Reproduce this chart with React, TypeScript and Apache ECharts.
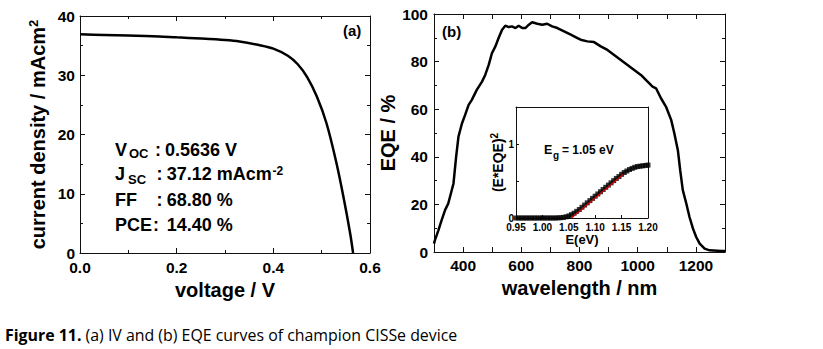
import React, { useEffect, useRef } from "react";
import * as echarts from "echarts";

// ---- IV curve (panel a)
const ivVoltage = [0, 0.05, 0.1, 0.15, 0.2, 0.25, 0.3, 0.33, 0.37, 0.4, 0.43, 0.45, 0.47, 0.49, 0.51, 0.53, 0.545, 0.559, 0.565];
const ivCurrent = [36.9, 36.8, 36.7, 36.6, 36.4, 36.2, 35.95, 35.7, 35.1, 34.5, 33.3, 31.9, 29.7, 26.4, 21.9, 15.4, 9.5, 3.3, 0];

// ---- EQE curve (panel b)
const eqeWavelength = [300, 303, 315, 326, 338, 349, 358, 367, 376, 384, 396, 407, 419, 430, 447, 465, 476, 488, 499, 511, 522, 534, 545, 557, 568, 580, 591, 603, 614, 626, 637, 655, 672, 689, 706, 724, 747, 770, 793, 804, 827, 850, 873, 896, 919, 942, 965, 988, 1011, 1034, 1051, 1063, 1080, 1097, 1115, 1126, 1138, 1146, 1155, 1167, 1178, 1190, 1201, 1213, 1230, 1247, 1287, 1300];
const eqeValue = [3.5, 4.9, 9.1, 13.3, 17.6, 20.4, 24.6, 28.8, 40.0, 48.4, 54.0, 57.6, 61.8, 63.9, 68.1, 71.6, 74.4, 78.6, 83.5, 86.4, 89.9, 93.4, 95.1, 94.5, 94.8, 94.1, 95.1, 94.1, 94.1, 95.5, 96.5, 95.9, 95.5, 95.9, 94.8, 94.1, 92.7, 91.3, 89.9, 89.2, 88.5, 88.2, 86.4, 84.9, 82.8, 80.7, 78.6, 76.5, 74.4, 71.6, 69.5, 68.8, 64.6, 61.1, 55.5, 49.8, 42.8, 34.4, 26.0, 20.4, 14.7, 9.8, 6.3, 3.5, 1.4, 0.7, 0.4, 0.4];

// ---- Inset: (E*EQE)^2 vs E
const insetEnergy = [0.95, 0.955, 0.96, 0.965, 0.97, 0.975, 0.98, 0.985, 0.99, 0.995, 1.0, 1.005, 1.01, 1.015, 1.02, 1.025, 1.03, 1.035, 1.04, 1.045, 1.05, 1.055, 1.06, 1.065, 1.07, 1.075, 1.08, 1.085, 1.09, 1.095, 1.1, 1.105, 1.11, 1.115, 1.12, 1.125, 1.13, 1.135, 1.14, 1.145, 1.15, 1.155, 1.16, 1.165, 1.17, 1.175, 1.18, 1.185, 1.19, 1.195, 1.2];
const insetValue = [0, 0, 0, 0, 0, 0, 0, 0, 0, 0, 0, 0, 0, 0, 0, 0, 0.002, 0.004, 0.008, 0.016, 0.028, 0.045, 0.065, 0.09, 0.115, 0.145, 0.175, 0.205, 0.235, 0.265, 0.295, 0.325, 0.355, 0.385, 0.415, 0.445, 0.475, 0.505, 0.535, 0.56, 0.59, 0.615, 0.635, 0.655, 0.67, 0.685, 0.695, 0.7, 0.705, 0.71, 0.715];
const fitEnergy = [1.055, 1.153];
const fitValue = [0, 0.59];

const FONT = "Liberation Sans";
const AX = "#111";

const zip = (a: number[], b: number[]) => a.map((v, i) => [v, b[i]]);

const labelStyle = (size: number, extra: any = {}) => ({
  fontFamily: FONT,
  fontWeight: "bold",
  fontSize: size,
  color: "#000",
  ...extra,
});

function axis(opts: any) {
  const { gridIndex, min, max, interval, position, labels, labelSize, labelLH, formatter, minor, tickLen, margin, name, nameGap, nameSize, rich } = opts;
  return {
    type: "value",
    gridIndex,
    min,
    max,
    interval,
    position,
    splitLine: { show: false },
    axisLine: { show: true, onZero: false, lineStyle: { color: AX, width: 1 } },
    axisTick: { show: true, inside: true, length: tickLen ?? 5, lineStyle: { color: AX, width: 1 } },
    minorTick: minor ? { show: true, splitNumber: minor, length: 3, lineStyle: { color: AX, width: 1 } } : { show: false },
    minorSplitLine: { show: false },
    axisLabel: labels
      ? { show: true, ...labelStyle(labelSize), lineHeight: labelLH ?? labelSize, margin: margin ?? 6, formatter, showMinLabel: true, showMaxLabel: true }
      : { show: false },
    name: name || "",
    nameLocation: "middle",
    nameGap: nameGap ?? 20,
    nameTextStyle: name ? { ...labelStyle(nameSize), rich } : undefined,
  };
}

function txt(text: string, x: number, y: number, size: number, extra: any = {}) {
  return {
    type: "text",
    x,
    y,
    silent: true,
    style: {
      text,
      fontFamily: FONT,
      fontWeight: "bold",
      fontSize: size,
      fill: "#000",
      verticalAlign: "middle",
      align: "left",
      ...extra,
    },
  };
}

export default function App() {
  const ref = useRef<HTMLDivElement>(null);
  useEffect(() => {
    if (!ref.current) return;
    const chart = echarts.init(ref.current, null, { renderer: "svg" });
    const option: any = {
      animation: false,
      backgroundColor: "#fff",
      grid: [
        { left: 80, top: 16, width: 290, height: 237 },
        { left: 434, top: 14, width: 291, height: 238 },
        { left: 516, top: 107, width: 132, height: 111, show: true, backgroundColor: "#fff", borderColor: "transparent" },
      ],
      xAxis: [
        axis({ gridIndex: 0, min: 0, max: 0.6, interval: 0.2, position: "bottom", labels: true, labelSize: 15.5, labelLH: 13, margin: 8, minor: 2,
          formatter: (v: number) => v.toFixed(1), name: "voltage / V", nameGap: 24, nameSize: 20 }),
        axis({ gridIndex: 0, min: 0, max: 0.6, interval: 0.2, position: "top", labels: false, minor: 2 }),
        axis({ gridIndex: 1, min: 300, max: 1300, interval: 100, position: "bottom", labels: true, labelSize: 15.5, labelLH: 13, margin: 7,
          formatter: (v: number) => (Math.round(v) % 200 === 0 ? String(Math.round(v)) : ""), name: "wavelength / nm", nameGap: 24, nameSize: 20 }),
        axis({ gridIndex: 1, min: 300, max: 1300, interval: 100, position: "top", labels: false }),
        axis({ gridIndex: 2, min: 0.95, max: 1.2, interval: 0.05, position: "bottom", labels: true, labelSize: 10, labelLH: 9, margin: 5, tickLen: 3,
          formatter: (v: number) => v.toFixed(2), name: "E(eV)", nameGap: 12, nameSize: 13 }),
        axis({ gridIndex: 2, min: 0.95, max: 1.2, interval: 0.05, position: "top", labels: false, tickLen: 0 }),
      ],
      yAxis: [
        axis({ gridIndex: 0, min: 0, max: 40, interval: 10, position: "left", labels: true, labelSize: 15.5, labelLH: 11, margin: 5, minor: 2,
          name: "{t|current density / mAcm}{s|2}", nameGap: 32, nameSize: 20,
          rich: { t: labelStyle(20), s: labelStyle(13, { verticalAlign: "top", padding: [0, 0, 8, 0] }) } }),
        axis({ gridIndex: 0, min: 0, max: 40, interval: 10, position: "right", labels: false, minor: 2 }),
        axis({ gridIndex: 1, min: 0, max: 100, interval: 20, position: "left", labels: true, labelSize: 15.5, labelLH: 11, margin: 6, minor: 2,
          name: "EQE / %", nameGap: 28, nameSize: 20 }),
        axis({ gridIndex: 1, min: 0, max: 100, interval: 20, position: "right", labels: false, minor: 2 }),
        axis({ gridIndex: 2, min: 0, max: 1.5, interval: 0.5, position: "left", labels: true, labelSize: 10, labelLH: 7, margin: 2, tickLen: 3,
          formatter: (v: number) => (Math.abs(v - Math.round(v)) < 1e-6 ? String(Math.round(v)) : ""),
          name: "{t|(E*EQE)}{s|2}", nameGap: 10, nameSize: 14,
          rich: { t: labelStyle(14), s: labelStyle(10, { verticalAlign: "top", padding: [0, 0, 6, 0] }) } }),
        axis({ gridIndex: 2, min: 0, max: 1.5, interval: 0.5, position: "right", labels: false, tickLen: 0 }),
      ],
      series: [
        {
          type: "line", xAxisIndex: 0, yAxisIndex: 0, data: zip(ivVoltage, ivCurrent), smooth: 0.3,
          showSymbol: false, lineStyle: { color: "#000", width: 2.5 }, z: 3,
        },
        {
          type: "line", xAxisIndex: 2, yAxisIndex: 2, data: zip(eqeWavelength, eqeValue),
          showSymbol: false, lineStyle: { color: "#000", width: 2.5 }, z: 3,
        },
        {
          type: "scatter", xAxisIndex: 4, yAxisIndex: 4, data: zip(insetEnergy, insetValue),
          symbol: "rect", symbolSize: 5, itemStyle: { color: "#000" }, z: 5,
        },
        {
          type: "line", xAxisIndex: 4, yAxisIndex: 4, data: zip(fitEnergy, fitValue),
          showSymbol: false, lineStyle: { color: "#e00000", width: 1.2 }, z: 6,
        },
      ],
      graphic: [
        txt("(a)", 343, 30, 15),
        txt("(b)", 442, 31, 15),
        txt("V", 115, 149.7, 18),
        txt("OC", 129, 153, 13),
        txt(":", 155, 149.7, 18),
        txt("0.5636 V", 165, 149.7, 18),
        txt("J", 115, 173.7, 18),
        txt("SC", 128, 179.5, 13),
        txt(":", 156.5, 173.7, 18),
        txt("37.12 mAcm", 166.7, 173.7, 18),
        txt("-2", 272.5, 170.5, 12),
        txt("FF", 115, 199.7, 18),
        txt(":", 156.5, 199.7, 18),
        txt("68.80 %", 166.7, 199.7, 18),
        txt("PCE", 115, 225.4, 18),
        txt(":", 153, 225.4, 18),
        txt("14.40 %", 166.7, 225.4, 18),
        txt("E", 544, 150, 12.5),
        txt("g", 553, 155, 10),
        txt("= 1.05 eV", 562, 150, 12),
        {
          type: "text", x: 5, y: 335, silent: true,
          style: {
            text: "{b|Figure 11.}{n| (a) IV and (b) EQE curves of champion CISSe device}",
            verticalAlign: "middle", align: "left",
            rich: {
              b: { fontFamily: "Open Sans", fontWeight: "bold", fontSize: 15.9, fill: "#000" },
              n: { fontFamily: "Open Sans", fontWeight: "normal", fontSize: 15.9, fill: "#000" },
            },
          },
        },
      ],
    };
    chart.setOption(option);
    return () => chart.dispose();
  }, []);
  return <div ref={ref} style={{ position: "absolute", left: 0, top: 0, width: 823, height: 349, background: "#fff" }} />;
}
